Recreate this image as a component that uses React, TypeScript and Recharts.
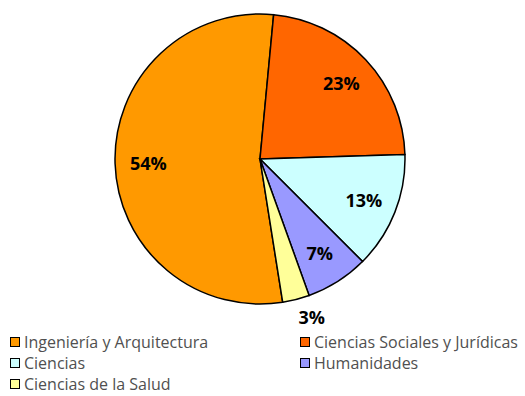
import React from "react";
import { Cell, Legend, Pie, PieChart } from "recharts";

const areas = [
  "Ingeniería y Arquitectura",
  "Ciencias Sociales y Jurídicas",
  "Ciencias",
  "Humanidades",
  "Ciencias de la Salud",
];
const shares = [54, 23, 13, 7, 3];
const colors = ["#FF9900", "#FF6600", "#CCFFFF", "#9999FF", "#FFFF99"];

const data = areas.map((name, i) => ({ name, value: shares[i] }));

const RAD = Math.PI / 180;

const renderLabel = (props: any) => {
  const { cx, cy, midAngle, outerRadius, value } = props;
  const cos = Math.cos(-midAngle * RAD);
  const sin = Math.sin(-midAngle * RAD);
  const outside = value < 5;
  const r = outside ? outerRadius + 10 : outerRadius * 0.77;
  const x = cx + r * cos;
  const y = cy + r * sin;
  return (
    <text
      x={x}
      y={y}
      textAnchor={outside ? (cos >= 0 ? "start" : "end") : "middle"}
      dominantBaseline={outside ? (sin >= 0 ? "hanging" : "auto") : "central"}
      fill="#000"
      fontSize={18}
      fontWeight="bold"
      fontFamily="'Open Sans', sans-serif"
    >
      {`${value}%`}
    </text>
  );
};

const renderLegend = () => (
  <div
    style={{
      display: "grid",
      gridTemplateColumns: "290px 230px",
      rowGap: 9,
      fontFamily: "'Open Sans', sans-serif",
      fontSize: 16,
      lineHeight: "12px",
      color: "#505050",
    }}
  >
    {areas.map((name, i) => (
      <div key={name} style={{ display: "flex", alignItems: "center", height: 12 }}>
        <span
          style={{
            display: "inline-block",
            width: 8,
            height: 8,
            background: colors[i],
            border: "1.5px solid #000",
            marginRight: 4,
          }}
        />
        <span>{name}</span>
      </div>
    ))}
  </div>
);

export default function App() {
  return (
    <div style={{ position: "absolute", left: 0, top: 0, background: "#fff" }}>
      <PieChart width={525} height={396} margin={{ top: 0, right: 0, bottom: 0, left: 0 }}>
        <Pie
          data={data}
          dataKey="value"
          nameKey="name"
          cx={260}
          cy={159}
          outerRadius={145}
          startAngle={-81}
          endAngle={-441}
          stroke="#000"
          strokeWidth={1.5}
          label={renderLabel}
          labelLine={false}
          isAnimationActive={false}
        >
          {data.map((d, i) => (
            <Cell key={d.name} fill={colors[i]} />
          ))}
        </Pie>
        <Legend
          content={renderLegend}
          wrapperStyle={{ position: "absolute", left: 10, top: 336, width: 520 }}
        />
      </PieChart>
    </div>
  );
}
